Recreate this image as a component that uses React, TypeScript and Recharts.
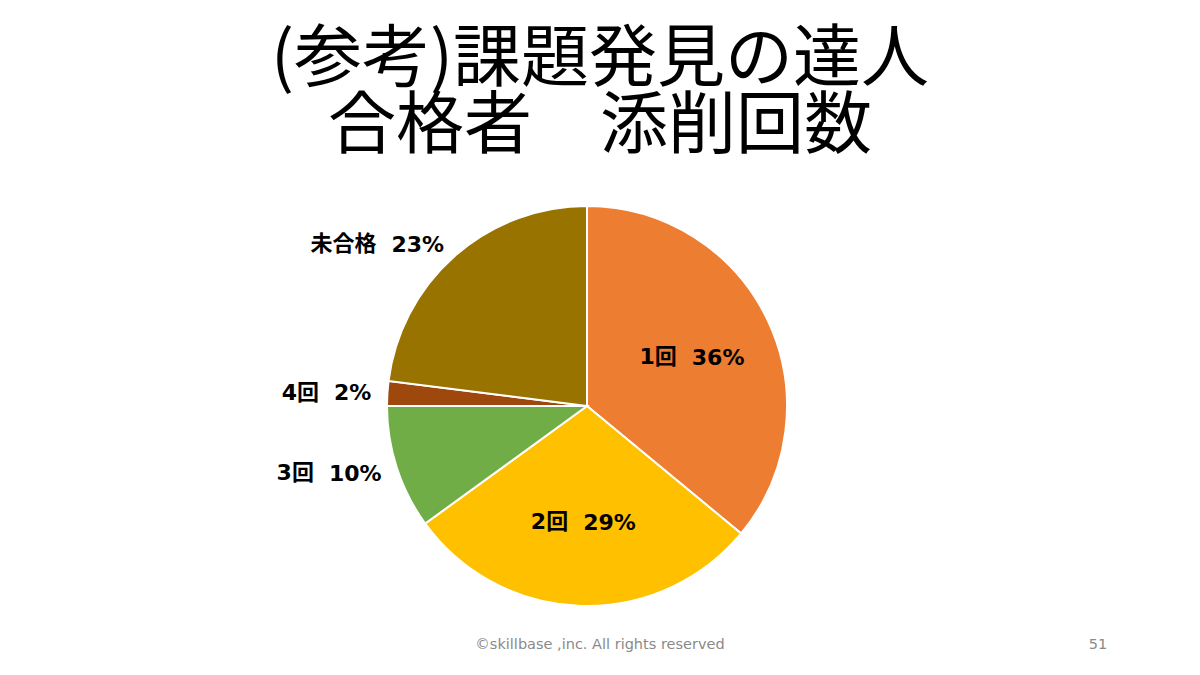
import React from 'react'
import { PieChart, Pie, Cell } from 'recharts'

const titleLines = ['(参考)課題発見の達人', '合格者　添削回数']
const categories = ['1回', '2回', '3回', '4回', '未合格']
const shares = [36, 29, 10, 2, 23]
const sliceColors = ['#ED7D31', '#FFC000', '#70AD47', '#9E480E', '#997300']
const footerText = '©skillbase ,inc. All rights reserved'
const pageNumber = '51'

const chartData = categories.map((name, i) => ({ name, value: shares[i] }))

const RADIAN = Math.PI / 180
const JP_FONT = '"Noto Sans CJK JP", "Noto Sans", sans-serif'
// Verdana-ish digits, CJK falls back to Noto
const LABEL_FONT = '"DejaVu Sans", "Noto Sans CJK JP", sans-serif'

function SliceLabel(props: any) {
    const { cx, cy, midAngle, outerRadius, percent, name, value } = props
    // big slices keep their label inside, small ones go outside on the left
    const inside = percent >= 0.25
    const r = inside ? outerRadius * 0.58 : outerRadius + 16
    const x = cx + r * Math.cos(-midAngle * RADIAN)
    const y = cy + r * Math.sin(-midAngle * RADIAN)
    return (
        <text
            x={x}
            y={y}
            textAnchor={inside ? 'middle' : 'end'}
            dominantBaseline="central"
            fontSize={22}
            fontWeight={700}
            fontFamily={LABEL_FONT}
            fill="#000"
        >
            {name}
            <tspan dx={15}>{`${value}%`}</tspan>
        </text>
    )
}

const footStyle: React.CSSProperties = {
    position: 'absolute',
    top: 635,
    textAlign: 'center',
    fontFamily: '"DejaVu Sans", Verdana, sans-serif',
    fontSize: 14.5,
    lineHeight: '18px',
    color: '#8a8a8a',
}

export default function App() {
    return (
        <div style={{ position: 'absolute', left: 0, top: 0, width: 1200, height: 675, background: '#fff', overflow: 'hidden' }}>
            <div
                style={{
                    position: 'absolute',
                    left: 0,
                    width: 1200,
                    top: 18,
                    textAlign: 'center',
                    fontFamily: JP_FONT,
                    fontSize: 68,
                    lineHeight: '67px',
                    color: '#000',
                    whiteSpace: 'pre',
                    // half-width ideographic space, closer to the slide font
                    fontFeatureSettings: '"halt"',
                }}
            >
                {titleLines.join('\n')}
            </div>
            <PieChart
                width={1200}
                height={675}
                margin={{ top: 0, right: 0, bottom: 0, left: 0 }}
                style={{ position: 'absolute', left: 0, top: 0 }}
            >
                <Pie
                    data={chartData}
                    dataKey="value"
                    nameKey="name"
                    cx={587}
                    cy={406}
                    outerRadius={200}
                    startAngle={90}
                    endAngle={-270}
                    stroke="#fff"
                    strokeWidth={2}
                    labelLine={false}
                    label={SliceLabel}
                    isAnimationActive={false}
                >
                    {chartData.map((d, i) => (
                        <Cell key={d.name} fill={sliceColors[i]} />
                    ))}
                </Pie>
            </PieChart>
            <div style={{ ...footStyle, left: 0, width: 1200 }}>{footerText}</div>
            <div style={{ ...footStyle, left: 1060, width: 76 }}>{pageNumber}</div>
        </div>
    )
}
